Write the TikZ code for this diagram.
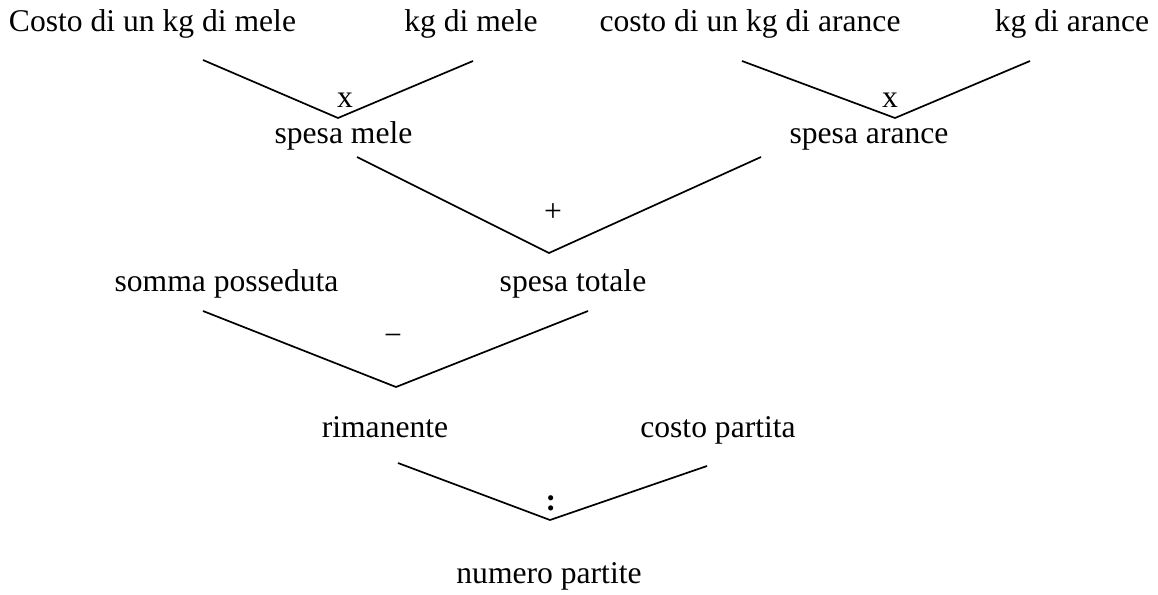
\documentclass[tikz,border=0pt]{standalone}
\usepackage{fontspec}
\setmainfont{Liberation Serif}
\begin{document}
\begin{tikzpicture}[
		x=1pt, y=-1pt,
		lbl/.style={anchor=base, inner sep=0pt, font=\fontsize{31.6}{38}\selectfont},
		op/.style={anchor=base, inner sep=0pt, font=\fontsize{31.6}{38}\selectfont},
		leg/.style={line width=1.7pt}
	]
		\useasboundingbox (0,0) rectangle (1158,594);

		\node[lbl] (cmele) at (152.5,32) {Costo di un kg di mele};
		\node[lbl] (kgmele) at (471,32) {kg di mele};
		\node[lbl] (carance) at (750,32) {costo di un kg di arance};
		\node[lbl] (kgarance) at (1072,32) {kg di arance};
		\node[lbl] (smele) at (343.5,143) {spesa mele};
		\node[lbl] (sarance) at (869,143) {spesa arance};
		\node[lbl] (somma) at (226.5,291) {somma posseduta};
		\node[lbl] (stot) at (573,291) {spesa totale};
		\node[lbl] (rim) at (385,437) {rimanente};
		\node[lbl] (cpart) at (718,437) {costo partita};
		\node[lbl] (npart) at (549,583) {numero partite};

		\node[op] (x1) at (345,107) {x};
		\node[op] (x2) at (890,107) {x};
		\node[op] (piu) at (553,221) {+};
		\node[op] (meno) at (393,345) {−};
		\node[op] (div) at (551,510) {\textbf{:}};

		\coordinate (a1) at (203,60);
		\coordinate (v1) at (338,118);
		\coordinate (b1) at (473,61);
		\coordinate (a2) at (742,61);
		\coordinate (v2) at (895,118);
		\coordinate (b2) at (1030,61);
		\coordinate (a3) at (357,157);
		\coordinate (v3) at (549,253);
		\coordinate (b3) at (761,157);
		\coordinate (a4) at (203,311);
		\coordinate (v4) at (396,387);
		\coordinate (b4) at (588,311);
		\coordinate (a5) at (398,463);
		\coordinate (v5) at (550,520);
		\coordinate (b5) at (707,466);

		\draw[leg] (a1) -- (v1) -- (b1);
		\draw[leg] (a2) -- (v2) -- (b2);
		\draw[leg] (a3) -- (v3) -- (b3);
		\draw[leg] (a4) -- (v4) -- (b4);
		\draw[leg] (a5) -- (v5) -- (b5);
	\end{tikzpicture}
\end{document}
